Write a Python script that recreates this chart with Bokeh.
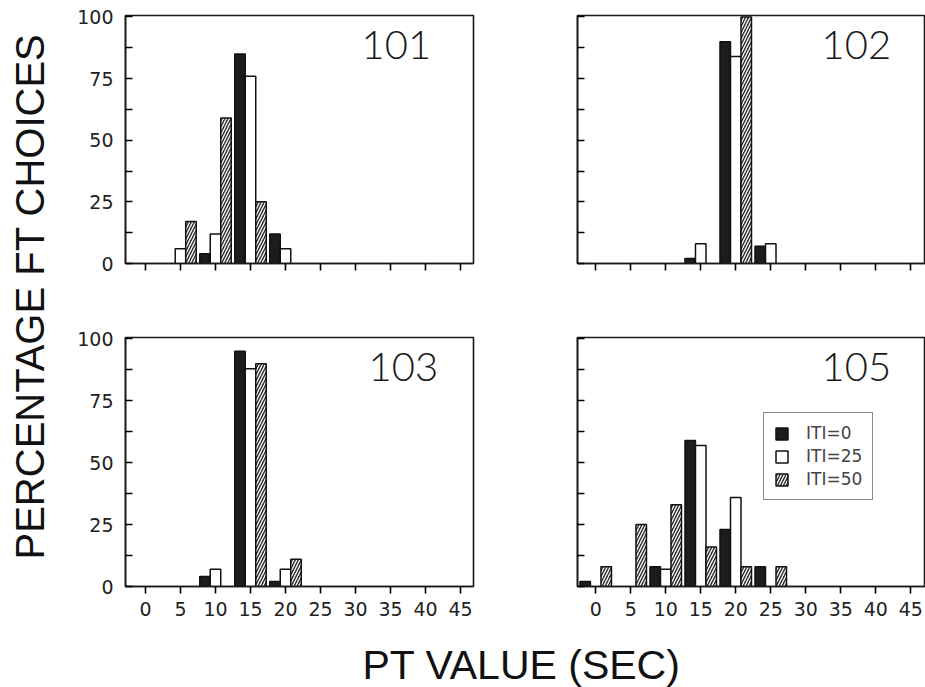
import math
from bokeh.plotting import figure
from bokeh.models import Label, Legend, LegendItem, FixedTicker, Range1d
from bokeh.layouts import row, column
from bokeh.embed import file_html
from bokeh.resources import INLINE

# ---------------- data ----------------
pt_values = [0, 5, 10, 15, 20, 25, 30, 35, 40, 45]
x_ticks = [0, 5, 10, 15, 20, 25, 30, 35, 40, 45]
y_ticks = [0, 25, 50, 75, 100]
y_minor_ticks = [12.5, 37.5, 62.5, 87.5]
iti_labels = ["ITI=0", "ITI=25", "ITI=50"]
subjects = ["101", "102", "103", "105"]

s101_iti0 = [0, 0, 4, 85, 12, 0, 0, 0, 0, 0]
s101_iti25 = [0, 6, 12, 76, 6, 0, 0, 0, 0, 0]
s101_iti50 = [0, 17, 59, 25, 0, 0, 0, 0, 0, 0]

s102_iti0 = [0, 0, 0, 2, 90, 7, 0, 0, 0, 0]
s102_iti25 = [0, 0, 0, 8, 84, 8, 0, 0, 0, 0]
s102_iti50 = [0, 0, 0, 0, 100, 0, 0, 0, 0, 0]

s103_iti0 = [0, 0, 4, 95, 2, 0, 0, 0, 0, 0]
s103_iti25 = [0, 0, 7, 88, 7, 0, 0, 0, 0, 0]
s103_iti50 = [0, 0, 0, 90, 11, 0, 0, 0, 0, 0]

s105_iti0 = [2, 0, 8, 59, 23, 8, 0, 0, 0, 0]
s105_iti25 = [0, 0, 7, 57, 36, 0, 0, 0, 0, 0]
s105_iti50 = [8, 25, 33, 16, 8, 8, 0, 0, 0, 0]

panel_data = {
    "101": (s101_iti0, s101_iti25, s101_iti50),
    "102": (s102_iti0, s102_iti25, s102_iti50),
    "103": (s103_iti0, s103_iti25, s103_iti50),
    "105": (s105_iti0, s105_iti25, s105_iti50),
}

# ---------------- styling ----------------
TICK_FONT = "DejaVu Sans"
TITLE_FONT = "Lato Light, Lato"
LABEL_FONT = "Liberation Sans"
BAR_W = 1.5
OFFSETS = [-1.5, 0.0, 1.5]
TITLE_RIGHT = {"101": 40.8, "102": 42.2, "103": 41.8, "105": 42.2}
STYLES = [
    dict(fill_color="#1c1c1c", line_color="#111111"),
    dict(fill_color="white", line_color="#111111"),
    dict(fill_color="#2e2e2e", line_color="#111111", hatch_pattern="/",
         hatch_color="white", hatch_scale=6, hatch_weight=1.3),
]


def make_panel(name, col, rowi):
    left = col == 0
    top = rowi == 0
    width = 455 if left else 400
    height = 300 if top else 325
    xr = Range1d(-2.85, 46.85) if left else Range1d(-2.6, 47.1)
    p = figure(width=width, height=height, x_range=xr, y_range=Range1d(0, 100.6),
               output_backend="svg", toolbar_location=None,
               min_border_left=55 if left else 52,
               min_border_right=52 if left else 0,
               min_border_top=15 if top else 37,
               min_border_bottom=37 if top else 39)
    p.grid.visible = False
    p.outline_line_color = "#1a1a1a"
    p.outline_line_width = 1.6
    p.background_fill_color = "white"
    p.border_fill_color = "white"

    xa = p.xaxis[0]
    xa.ticker = FixedTicker(ticks=x_ticks)
    xa.major_tick_in = 0
    xa.major_tick_out = 7
    xa.minor_tick_line_color = None
    xa.axis_line_color = "#1a1a1a"
    xa.axis_line_width = 1.6
    xa.major_tick_line_width = 1.6
    xa.major_label_text_font = TICK_FONT
    xa.major_label_text_font_size = "19px"
    xa.major_label_text_color = "#222222"
    xa.major_label_standoff = 8
    if top:
        xa.major_label_overrides = {t: "" for t in x_ticks}

    ya = p.yaxis[0]
    ya.ticker = FixedTicker(ticks=y_ticks, minor_ticks=y_minor_ticks)
    ya.major_tick_in = 7
    ya.major_tick_out = 0
    ya.minor_tick_in = 7
    ya.minor_tick_out = 0
    ya.axis_line_color = "#1a1a1a"
    ya.axis_line_width = 1.6
    ya.major_tick_line_width = 1.6
    ya.minor_tick_line_width = 1.6
    ya.major_label_text_font = TICK_FONT
    ya.major_label_text_font_size = "19px"
    ya.major_label_text_color = "#222222"
    ya.major_label_standoff = 12
    if not left:
        ya.major_label_overrides = {t: "" for t in y_ticks}

    renderers = []
    for k, series in enumerate(panel_data[name]):
        xs = [v + OFFSETS[k] for v, h in zip(pt_values, series) if h > 0]
        hs = [h for h in series if h > 0]
        r = p.vbar(x=xs, top=hs, bottom=0, width=BAR_W, line_width=1.5, **STYLES[k])
        renderers.append(r)

    p.add_layout(Label(x=TITLE_RIGHT[name], y=88.5, text=name, text_align="right",
                       text_baseline="middle", text_font=TITLE_FONT,
                       text_font_size="40px", text_color="#1a1a1a"))

    if name == "105":
        items = [LegendItem(label=iti_labels[k], renderers=[renderers[k]]) for k in range(3)]
        lg = Legend(items=items, location=(186, 86), orientation="vertical",
                    glyph_width=15, glyph_height=15, label_height=15,
                    spacing=3, padding=10, margin=0, label_standoff=17,
                    label_text_font=TICK_FONT, label_text_font_size="17px",
                    border_line_color="#1a1a1a", border_line_width=1.5,
                    background_fill_color="white", background_fill_alpha=1.0)
        p.add_layout(lg, "center")
    return p


p101 = make_panel("101", 0, 0)
p102 = make_panel("102", 1, 0)
p103 = make_panel("103", 0, 1)
p105 = make_panel("105", 1, 1)

# y-label strip
ylab = figure(width=70, height=625, x_range=Range1d(0, 70), y_range=Range1d(0, 625),
              output_backend="svg", toolbar_location=None,
              x_axis_location=None, y_axis_location=None, min_border=0)
ylab.grid.visible = False
ylab.outline_line_color = None
ylab.add_layout(Label(x=29, y=625 - 296, text="PERCENTAGE FT CHOICES", angle=math.pi / 2,
                      text_align="center", text_baseline="middle", text_font=LABEL_FONT,
                      text_font_size="40px", text_color="#111111"))

# x-label strip
xlab = figure(width=925, height=62, x_range=Range1d(0, 925), y_range=Range1d(0, 62),
              output_backend="svg", toolbar_location=None,
              x_axis_location=None, y_axis_location=None, min_border=0)
xlab.grid.visible = False
xlab.outline_line_color = None
xlab.add_layout(Label(x=521, y=62 - 39, text="PT VALUE (SEC)", text_align="center",
                      text_baseline="middle", text_font=LABEL_FONT,
                      text_font_size="41px", text_color="#111111"))

grid = column(row(p101, p102), row(p103, p105))
layout = column(row(ylab, grid), xlab)

open("out.html", "w").write(file_html(layout, INLINE))
